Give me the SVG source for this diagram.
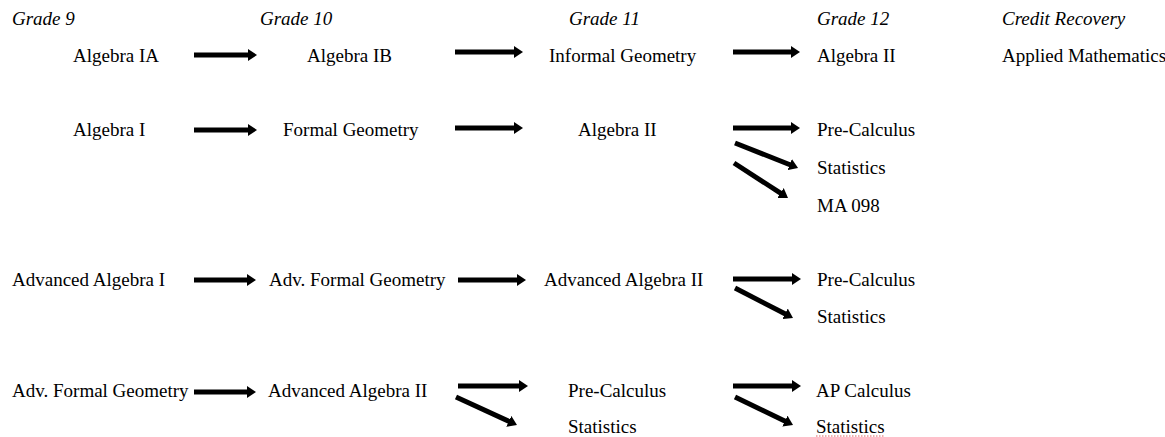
<svg xmlns="http://www.w3.org/2000/svg" width="1165" height="437" viewBox="0 0 1165 437">
<style>
text { font-family: "Liberation Serif", "Times New Roman", serif; font-size: 19px; fill: #000; }
.hdr { font-style: italic; }
.arr { stroke: #000; stroke-width: 5; fill: none; marker-end: url(#ah); }
</style>
<defs>
<marker id="ah" viewBox="0 0 9 12" refX="1" refY="6" markerWidth="9" markerHeight="12" markerUnits="userSpaceOnUse" orient="auto">
<path d="M0,0 L9,6 L0,12 z" fill="#000"/>
</marker>
</defs>
<rect width="1165" height="437" fill="#fff"/>
<g id="headers">
<text class="hdr" x="12" y="25">Grade 9</text>
<text class="hdr" x="260" y="25">Grade 10</text>
<text class="hdr" x="569" y="25">Grade 11</text>
<text class="hdr" x="817" y="25">Grade 12</text>
<text class="hdr" x="1002" y="25">Credit Recovery</text>
</g>
<g id="n-algebra-ia"><text x="73" y="62">Algebra IA</text></g>
<g id="n-algebra-ib"><text x="307" y="62">Algebra IB</text></g>
<g id="n-informal-geometry"><text x="549" y="62">Informal Geometry</text></g>
<g id="n-algebra-ii-r1"><text x="817" y="62">Algebra II</text></g>
<g id="n-applied-math"><text x="1002" y="62">Applied Mathematics</text></g>

<g id="n-algebra-i"><text x="73" y="136">Algebra I</text></g>
<g id="n-formal-geometry"><text x="283" y="136">Formal Geometry</text></g>
<g id="n-algebra-ii-r2"><text x="578" y="136">Algebra II</text></g>
<g id="n-precalc-r2"><text x="817" y="136">Pre-Calculus</text></g>
<g id="n-stats-r2"><text x="817" y="174">Statistics</text></g>
<g id="n-ma098"><text x="817" y="212">MA 098</text></g>

<g id="n-adv-algebra-i"><text x="12" y="286">Advanced Algebra I</text></g>
<g id="n-adv-formal-geo-r3"><text x="269" y="286">Adv. Formal Geometry</text></g>
<g id="n-adv-algebra-ii-r3"><text x="544" y="286">Advanced Algebra II</text></g>
<g id="n-precalc-r3"><text x="817" y="286">Pre-Calculus</text></g>
<g id="n-stats-r3"><text x="817" y="323">Statistics</text></g>

<g id="n-adv-formal-geo-r4"><text x="12" y="397">Adv. Formal Geometry</text></g>
<g id="n-adv-algebra-ii-r4"><text x="268" y="397">Advanced Algebra II</text></g>
<g id="n-precalc-r4"><text x="568" y="397">Pre-Calculus</text></g>
<g id="n-stats-r4"><text x="568" y="433">Statistics</text></g>
<g id="n-ap-calc"><text x="816" y="397">AP Calculus</text></g>
<g id="n-stats-r4b"><text x="816" y="433">Statistics</text>
<line x1="816" y1="436" x2="885" y2="436" stroke="#e06060" stroke-width="1" stroke-dasharray="1.5 1.5"/></g>

<g id="connectors">
<line class="arr" x1="194" y1="55" x2="249" y2="55"/>
<line class="arr" x1="455" y1="52" x2="515" y2="52"/>
<line class="arr" x1="733" y1="52" x2="792" y2="52"/>

<line class="arr" x1="194" y1="130" x2="249" y2="130"/>
<line class="arr" x1="455" y1="128" x2="515" y2="128"/>
<line class="arr" x1="733" y1="128" x2="792" y2="128"/>
<line class="arr" x1="735" y1="143" x2="790.6" y2="165"/>
<line class="arr" x1="734" y1="163" x2="781.3" y2="193.6"/>

<line class="arr" x1="194" y1="280" x2="248" y2="280"/>
<line class="arr" x1="458" y1="280" x2="518" y2="280"/>
<line class="arr" x1="733" y1="279" x2="793" y2="279"/>
<line class="arr" x1="735" y1="288" x2="785.9" y2="314.3"/>

<line class="arr" x1="194" y1="392" x2="248" y2="392"/>
<line class="arr" x1="458" y1="386" x2="520" y2="386"/>
<line class="arr" x1="456" y1="397" x2="509.7" y2="421.7"/>
<line class="arr" x1="733" y1="386" x2="793" y2="386"/>
<line class="arr" x1="735" y1="397" x2="785.8" y2="421.5"/>
</g>
</svg>
